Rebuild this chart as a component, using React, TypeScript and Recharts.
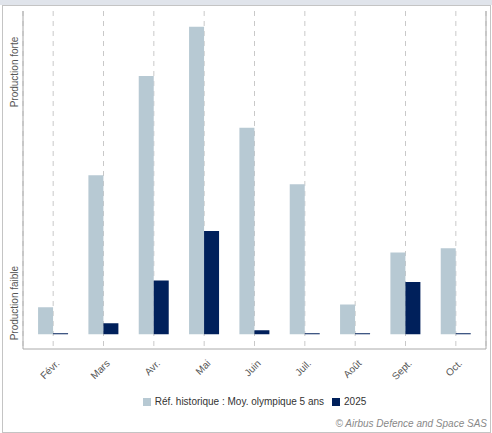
import React from 'react';
import { BarChart, Bar, XAxis, YAxis, CartesianGrid } from 'recharts';

const MONTHS = ['Févr.', 'Mars', 'Avr.', 'Mai', 'Juin', 'Juil.', 'Août', 'Sept.', 'Oct.'];
const HISTORIQUE = [8.3, 49.2, 79.9, 95.1, 63.9, 46.4, 9.2, 25.3, 26.6];
const PROD_2025 = [0.3, 3.4, 16.6, 31.9, 1.2, 0.3, 0.3, 16.1, 0.3];

const SERIES = [
  { key: 'hist', label: 'Réf. historique : Moy. olympique 5 ans', color: '#b7c9d3' },
  { key: 'y2025', label: '2025', color: '#00205b' },
];

const Y_DOMAIN: [number, number] = [-4.6, 100];
const Y_TICKS = [9.6, 81.1];
const Y_LABELS = ['Production faible', 'Production forte'];

const data = MONTHS.map((m, i) => ({ month: m, hist: HISTORIQUE[i], y2025: PROD_2025[i] }));

const FONT = '"Liberation Sans", Arial, sans-serif';

const MonthTick = ({ x, y, payload }: any) => (
  <g transform={`translate(${x + 7},${y + 7})`}>
    <text transform="rotate(-45)" textAnchor="end" fill="#555" fontSize={10} fontFamily={FONT}>
      {payload.value}
    </text>
  </g>
);

const SideTick = ({ x, y, payload, index }: any) => (
  <g transform={`translate(${x - 9},${y}) rotate(-90)`}>
    <text textAnchor="middle" dy="0.35em" fill="#555" fontSize={10} fontFamily={FONT}>
      {Y_LABELS[index] ?? payload.value}
    </text>
  </g>
);

export default function App() {
  return (
    <div style={{ position: 'fixed', left: 0, top: 0, width: 492, height: 433, background: '#fff', fontFamily: FONT }}>
      <div style={{ position: 'absolute', left: 0, top: 0, width: 492, height: 5, background: '#e0e4eb' }} />
      <div style={{ position: 'absolute', left: 2, top: 5, width: 487, height: 426, border: '1px solid #c4c4c4' }} />
      <div style={{ position: 'absolute', left: 0, top: 0 }}>
        <BarChart width={492} height={433} data={data} margin={{ top: 11, right: 0, left: 0, bottom: 0 }}
          barGap={0} barCategoryGap="20%">
          <CartesianGrid horizontal={false} strokeDasharray="5 5" stroke="#c9c9c9" />
          <XAxis dataKey="month" height={84} padding={{ left: 5, right: 5 }} tick={<MonthTick />}
            tickLine={false} axisLine={{ stroke: '#aaa' }} interval={0} />
          <XAxis xAxisId="top" dataKey="month" orientation="top" height={0} tick={false}
            tickLine={false} axisLine={{ stroke: '#aaa' }} />
          <YAxis width={23} domain={Y_DOMAIN} ticks={Y_TICKS} tick={<SideTick />} tickSize={0} tickMargin={0}
            tickLine={false} axisLine={{ stroke: '#aaa' }} allowDataOverflow />
          <YAxis yAxisId="right" orientation="right" width={6} domain={[0, 1]} tick={false}
            tickLine={false} axisLine={{ stroke: '#aaa' }} />
          {SERIES.map(s => (
            <Bar key={s.key} dataKey={s.key} name={s.label} fill={s.color} isAnimationActive={false} />
          ))}
        </BarChart>
      </div>
      <div style={{ position: 'absolute', left: 23, top: 396, width: 463, display: 'flex', justifyContent: 'center', alignItems: 'center', fontSize: 10, color: '#333' }}>
        {SERIES.map((s, i) => (
          <div key={s.key} style={{ display: 'flex', alignItems: 'center', marginRight: i === 0 ? 8 : 0 }}>
            <div style={{ width: 8, height: 8, background: s.color, marginRight: 4 }} />
            <span>{s.label}</span>
          </div>
        ))}
      </div>
      <div style={{ position: 'absolute', right: 5, top: 418, fontSize: 10, fontStyle: 'italic', color: '#888' }}>
        © Airbus Defence and Space SAS
      </div>
    </div>
  );
}
